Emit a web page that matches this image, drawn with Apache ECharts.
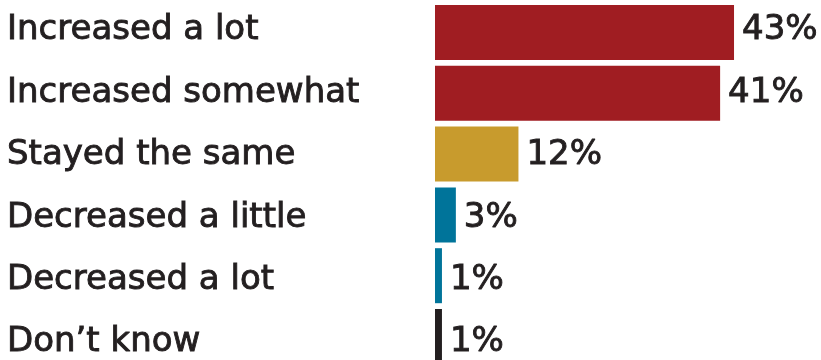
<!DOCTYPE html>
<html>
<head>
<meta charset="utf-8">
<script src="https://cdn.jsdelivr.net/npm/echarts@6/dist/echarts.min.js"></script>
<style>
  html, body { margin: 0; padding: 0; background: #ffffff; }
  #chart { width: 821px; height: 360px; }
</style>
</head>
<body>
<div id="chart"></div>
<script>
// Survey responses and their shares (percent)
const categories = [
  'Increased a lot',
  'Increased somewhat',
  'Stayed the same',
  'Decreased a little',
  'Decreased a lot',
  'Don\u2019t know'
];
const values = [43, 41, 12, 3, 1, 1];
const barColors = ['#a01d22', '#a01d22', '#c89b2d', '#00749a', '#00749a', '#231f20'];

const FONT = 'DejaVu Sans';
const TEXT = '#231f20';
const FS = 34;

// slightly heavier text strokes
const textStyle = {
  fontFamily: FONT, fontSize: FS, color: TEXT,
  textBorderColor: TEXT, textBorderWidth: 0.9
};

const chart = echarts.init(document.getElementById('chart'), null, { renderer: 'canvas' });

const xCommon = {
  type: 'value', min: 0, max: 50,
  show: false, splitLine: { show: false }
};

chart.setOption({
  animation: false,
  backgroundColor: '#ffffff',
  grid: [
    // bars: first and last category sit on the grid edges
    { left: 435, right: 38.3, top: 32.5, bottom: 23.5, containLabel: false },
    // text rows (category labels and values)
    { left: 435, right: 38.3, top: 30.5, bottom: 16.5, containLabel: false }
  ],
  xAxis: [
    Object.assign({ gridIndex: 0 }, xCommon),
    Object.assign({ gridIndex: 1 }, xCommon)
  ],
  yAxis: [
    {
      gridIndex: 0, type: 'category', data: categories, inverse: true, boundaryGap: false,
      axisLine: { show: false }, axisTick: { show: false }, axisLabel: { show: false },
      splitLine: { show: false }
    },
    {
      gridIndex: 1, type: 'category', data: categories, inverse: true, boundaryGap: false,
      axisLine: { show: false }, axisTick: { show: false }, splitLine: { show: false },
      axisLabel: Object.assign({ show: true, align: 'left', margin: 428 }, textStyle)
    }
  ],
  series: [
    {
      type: 'bar', xAxisIndex: 0, yAxisIndex: 0,
      data: values.map((v, i) => ({ value: v, itemStyle: { color: barColors[i] } })),
      barWidth: 55,
      silent: true
    },
    {
      // value labels placed at the end of each bar
      type: 'bar', xAxisIndex: 1, yAxisIndex: 1,
      data: values,
      barWidth: 1,
      itemStyle: { color: 'rgba(0,0,0,0)' },
      label: Object.assign({
        show: true, position: 'right', distance: 8,
        formatter: p => p.value + '%'
      }, textStyle),
      silent: true
    }
  ]
});
</script>
</body>
</html>
